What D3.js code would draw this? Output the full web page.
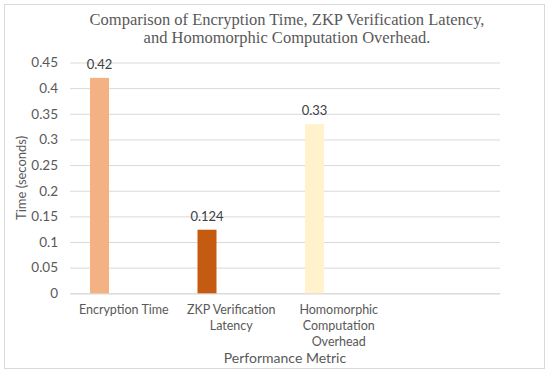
<!DOCTYPE html>
<html><head><meta charset="utf-8">
<script src="https://cdn.jsdelivr.net/npm/d3@7"></script>
<style>body{margin:0;background:#fff}svg{display:block}</style>
</head><body>
<script>
const categories = ["Encryption Time", "ZKP Verification Latency", "Homomorphic Computation Overhead", ""];
const tickLines = [["Encryption Time"], ["ZKP Verification", "Latency"], ["Homomorphic", "Computation", "Overhead"], []];
const values = [0.42, 0.124, 0.33, null];
const valueLabels = ["0.42", "0.124", "0.33", ""];
const colors = ["#F4B183", "#C55A11", "#FFF2CC", "none"];
const yTicks = [0, 0.05, 0.1, 0.15, 0.2, 0.25, 0.3, 0.35, 0.4, 0.45];
const titleLines = ["Comparison of Encryption Time, ZKP Verification Latency,", "and Homomorphic Computation Overhead."];
const xTitle = "Performance Metric";
const yTitle = "Time (seconds)";

const W = 550, H = 374;
const svg = d3.select("body").append("svg").attr("width", W).attr("height", H);
svg.append("rect").attr("x", 4.5).attr("y", 4.5).attr("width", 540).attr("height", 364)
  .attr("fill", "#fff").attr("stroke", "#D9D9D9").attr("stroke-width", 1);

const plot = {left: 70, right: 500, top: 62.5, bottom: 293.3};
const x = d3.scaleBand().domain(categories.map((c, i) => i)).range([plot.left, plot.right]).paddingInner(0).paddingOuter(0);
const y = d3.scaleLinear().domain([0, 0.45]).range([plot.bottom, plot.top]);

const font = "Lato, 'Open Sans', sans-serif";
const yAxis = d3.axisLeft(y).tickValues(yTicks).tickSize(-(plot.right - plot.left)).tickPadding(12)
  .tickFormat(d => d3.format("")(+d.toFixed(2)));
const gy = svg.append("g").attr("transform", `translate(${plot.left},0)`).call(yAxis);
gy.select(".domain").remove();
gy.selectAll(".tick line").attr("stroke", "#D9D9D9").attr("stroke-width", 1);
gy.selectAll(".tick text").attr("fill", "#595959").style("font-family", font).style("font-size", "13.5px");

const xAxis = d3.axisBottom(x).tickSize(0).tickFormat("");
const gx = svg.append("g").attr("transform", `translate(0,${plot.bottom})`).call(xAxis);
gx.select(".domain").attr("stroke", "#D9D9D9");

tickLines.forEach((lines, i) => {
  const t = svg.append("text").attr("text-anchor", "middle").attr("fill", "#595959")
    .style("font-family", font).style("font-size", "12.5px");
  lines.forEach((l, j) => {
    t.append("tspan").attr("x", x(i) + x.bandwidth() / 2).attr("y", 314 + j * 16).text(l);
  });
});

const barOffset = 20, barW = 19;
const data = values.map((v, i) => ({i, v, c: colors[i], lab: valueLabels[i]})).filter(d => d.v != null);
svg.append("g").selectAll("rect").data(data).join("rect")
  .attr("x", d => x(d.i) + barOffset).attr("width", barW)
  .attr("y", d => y(d.v)).attr("height", d => y(0) - y(d.v)).attr("fill", d => d.c);
svg.append("g").selectAll("text").data(data).join("text")
  .attr("x", d => x(d.i) + barOffset + barW / 2).attr("y", d => y(d.v) - 9)
  .attr("text-anchor", "middle").attr("fill", "#404040")
  .style("font-family", font).style("font-size", "13px").text(d => d.lab);

const tt = svg.append("text").attr("text-anchor", "middle").attr("fill", "#595959")
  .style("font-family", "'Liberation Serif', serif").style("font-size", "16.5px");
titleLines.forEach((l, j) => tt.append("tspan").attr("x", 287).attr("y", 25 + j * 18).text(l));

svg.append("text").attr("x", (plot.left + plot.right) / 2).attr("y", 363).attr("text-anchor", "middle")
  .attr("fill", "#595959").style("font-family", font).style("font-size", "14px").text(xTitle);
svg.append("text").attr("transform", `translate(26,${(plot.top + plot.bottom) / 2}) rotate(-90)`)
  .attr("text-anchor", "middle").attr("fill", "#595959")
  .style("font-family", font).style("font-size", "13px").text(yTitle);
</script>
</body></html>
